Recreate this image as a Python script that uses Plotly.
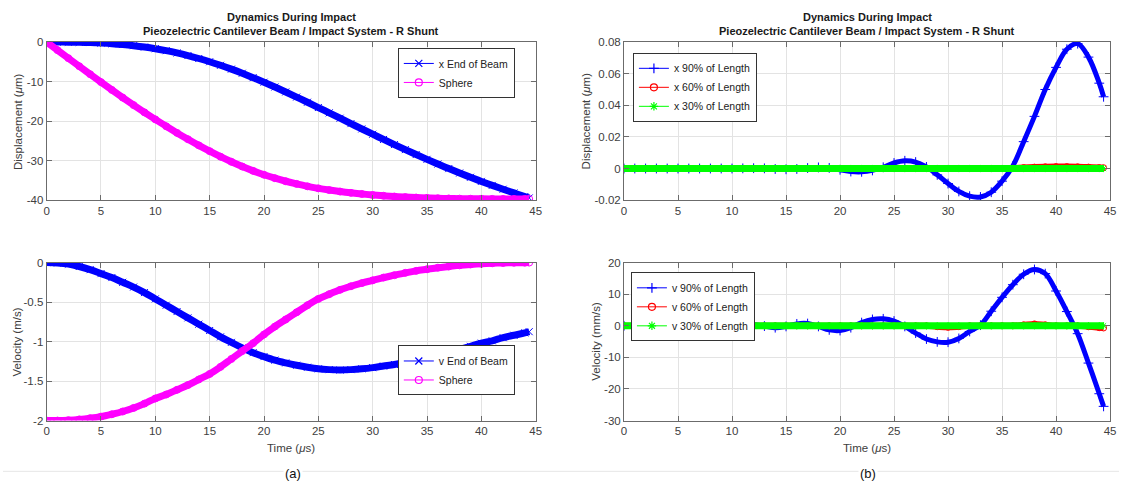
import plotly.graph_objects as go

# ---------------- data ----------------
t_us = [0, 1, 2, 3, 4, 5, 6, 7, 8, 9, 10, 11, 12, 13, 14, 15, 16, 17, 18, 19, 20,
        21, 22, 23, 24, 25, 26, 27, 28, 29, 30, 31, 32, 33, 34, 35, 36, 37, 38, 39,
        40, 41, 42, 43, 44, 44.4]

# (a) top: displacement (um)
x_end_beam = [0, -0.003, -0.015, -0.05, -0.12, -0.24, -0.40, -0.62, -0.90, -1.25, -1.67,
              -2.17, -2.75, -3.41, -4.15, -4.97, -5.87, -6.84, -7.89, -9.00, -10.16,
              -11.37, -12.62, -13.91, -15.22, -16.56, -17.91, -19.27, -20.63, -21.98, -23.32,
              -24.64, -25.94, -27.22, -28.46, -29.68, -30.87, -32.02, -33.14, -34.22, -35.26,
              -36.27, -37.24, -38.18, -39.09, -39.45]
x_sphere = [0, -2.04, -4.08, -6.11, -8.13, -10.13, -12.11, -14.05, -15.94, -17.79, -19.57,
            -21.31, -22.98, -24.59, -26.14, -27.61, -29.01, -30.30, -31.50, -32.59, -33.57,
            -34.45, -35.22, -35.90, -36.51, -37.02, -37.45, -37.83, -38.16, -38.44, -38.69,
            -38.90, -39.09, -39.23, -39.35, -39.44, -39.53, -39.58, -39.63, -39.66, -39.68,
            -39.69, -39.70, -39.70, -39.70, -39.70]

# (a) bottom: velocity (m/s)
v_end_beam = [0, -0.005, -0.02, -0.05, -0.09, -0.14, -0.19, -0.25, -0.31, -0.38, -0.46,
              -0.54, -0.62, -0.70, -0.78, -0.86, -0.94, -1.01, -1.08, -1.14, -1.19,
              -1.235, -1.27, -1.30, -1.325, -1.345, -1.355, -1.36, -1.355, -1.345, -1.33,
              -1.31, -1.29, -1.26, -1.23, -1.20, -1.17, -1.14, -1.10, -1.06, -1.02,
              -0.99, -0.95, -0.92, -0.89, -0.875]
v_sphere = [-2.0, -2.0, -1.995, -1.985, -1.97, -1.95, -1.92, -1.885, -1.84, -1.785, -1.72,
            -1.67, -1.61, -1.55, -1.48, -1.41, -1.32, -1.22, -1.12, -1.02, -0.91,
            -0.81, -0.72, -0.63, -0.54, -0.46, -0.40, -0.345, -0.30, -0.26, -0.225,
            -0.19, -0.16, -0.13, -0.105, -0.085, -0.065, -0.05, -0.035, -0.024, -0.015,
            -0.009, -0.005, -0.002, -0.001, 0.0]

# (b) top: displacement (um)
x_90 = [0, 0, 0, 0, 0, 0, 0, 0, 0, 0, 0,
        0.0001, 0.0002, 0.0001, -0.0003, -0.0005, -0.0003, 0.0003, 0.0007, 0.0004, -0.0008,
        -0.0019, -0.0021, -0.0012, 0.0008, 0.0035, 0.0049, 0.0041, 0.0010, -0.0040, -0.0095,
        -0.0145, -0.0175, -0.0180, -0.0150, -0.0080, 0.0016, 0.0170, 0.0330, 0.0500, 0.0640,
        0.0755, 0.0790, 0.0705, 0.0540, 0.0454]
x_60 = [0, 0, 0, 0, 0, 0, 0, 0, 0, 0, 0,
        0, 0, 0, 0, 0, 0, 0, 0, 0, 0,
        0, 0, 0, 0, 0, 0, 0, 0, 0, 0,
        0, 0, 0, 0, 0, 0.0002, 0.0006, 0.0009, 0.0011, 0.0012,
        0.0012, 0.0011, 0.0009, 0.0006, 0.0005]
x_30 = [0] * 46

# (b) bottom: velocity (mm/s)
v_90 = [0, 0, 0, 0, 0, 0, 0, 0, 0, 0, -0.2,
        0.1, 0.3, -0.1, -0.6, -0.2, 0.6, 0.7, -0.2, -1.3, -1.5,
        -0.6, 1.0, 2.0, 2.2, 1.5, -0.2, -2.3, -4.2, -5.1, -5.2,
        -4.0, -1.8, 0.2, 4.6, 9.0, 13.0, 16.3, 17.8, 16.5, 11.0,
        4.5, -2.5, -11.8, -21.5, -25.5]
v_60 = [0, 0, 0, 0, 0, 0, 0, 0, 0, 0, 0,
        0, 0, 0, 0, 0, 0, 0, 0, 0, 0,
        0, 0, 0, 0, 0, 0, 0, 0, -0.3, -0.5,
        -0.3, 0, 0, 0, 0, 0, 0.3, 0.6, 0.3, 0,
        0, 0, -0.3, -0.6, -0.7]
v_30 = [0] * 46

x_ticks = [0, 5, 10, 15, 20, 25, 30, 35, 40, 45]
x_ticktext = ["0", "5", "10", "15", "20", "25", "30", "35", "40", "45"]
ya1_ticks = [-40, -30, -20, -10, 0]
ya1_text = ["-40", "-30", "-20", "-10", "0"]
ya2_ticks = [-2, -1.5, -1, -0.5, 0]
ya2_text = ["-2", "-1.5", "-1", "-0.5", "0"]
yb1_ticks = [-0.02, 0, 0.02, 0.04, 0.06, 0.08]
yb1_text = ["-0.02", "0", "0.02", "0.04", "0.06", "0.08"]
yb2_ticks = [-30, -20, -10, 0, 10, 20]
yb2_text = ["-30", "-20", "-10", "0", "10", "20"]

title_line1 = "Dynamics During Impact"
title_line2 = "Pieozelectric Cantilever Beam / Impact System - R Shunt"

# ---------------- figure ----------------
W, H = 1125, 490
FONT = "Liberation Sans, Arial, Helvetica, sans-serif"
BLUE, MAG, RED, GREEN = "#0000FF", "#FF00FF", "#FF0000", "#00FF00"

fig = go.Figure()


def band(x, y, color, symbol, xa, ya, lw, msize):
    fig.add_trace(go.Scatter(
        x=x, y=y, mode="lines+markers", xaxis=xa, yaxis=ya, showlegend=False,
        line=dict(color=color, width=lw, shape="spline"),
        marker=dict(symbol=symbol, size=msize, color=color, line=dict(color=color, width=1)),
        hoverinfo="skip"))


def legend_item(name, color, symbol, legend):
    fig.add_trace(go.Scatter(
        x=[None], y=[None], mode="lines+markers", name=name, legend=legend,
        line=dict(color=color, width=1),
        marker=dict(symbol=symbol, size=7, color=color, line=dict(color=color, width=1.2))))


# (a) top
band(t_us, x_end_beam, BLUE, "x-thin-open", "x", "y", 7, 7)
band(t_us, x_sphere, MAG, "circle-open", "x", "y", 7, 7)
legend_item("x End of Beam", BLUE, "x-thin-open", "legend")
legend_item("Sphere", MAG, "circle-open", "legend")

# (b) top
band(t_us, x_90, BLUE, "cross-thin-open", "x2", "y2", 5, 7)
band(t_us, x_60, RED, "circle-open", "x2", "y2", 6, 6)
band(t_us, x_30, GREEN, "asterisk-open", "x2", "y2", 7, 6)
legend_item("x 90% of Length", BLUE, "cross-thin-open", "legend2")
legend_item("x 60% of Length", RED, "circle-open", "legend2")
legend_item("x 30% of Length", GREEN, "asterisk-open", "legend2")

# (a) bottom
band(t_us, v_end_beam, BLUE, "x-thin-open", "x3", "y3", 7, 7)
band(t_us, v_sphere, MAG, "circle-open", "x3", "y3", 7, 7)
legend_item("v End of Beam", BLUE, "x-thin-open", "legend3")
legend_item("Sphere", MAG, "circle-open", "legend3")

# (b) bottom
band(t_us, v_90, BLUE, "cross-thin-open", "x4", "y4", 5, 7)
band(t_us, v_60, RED, "circle-open", "x4", "y4", 6, 6)
band(t_us, v_30, GREEN, "asterisk-open", "x4", "y4", 7, 6)
legend_item("v 90% of Length", BLUE, "cross-thin-open", "legend4")
legend_item("v 60% of Length", RED, "circle-open", "legend4")
legend_item("v 30% of Length", GREEN, "asterisk-open", "legend4")


def px(x):
    return x / W


def py(y):
    return 1 - y / H


left_dom = [px(44), px(537)]
right_dom = [px(626), px(1116)]
top_dom = [py(199), py(37)]
bot_dom = [py(425), py(263)]

axis_common = dict(
    showline=True, linecolor="#6b6b6b", linewidth=1, mirror="ticks",
    ticks="inside", ticklen=5, tickcolor="#6b6b6b", tickwidth=1,
    showgrid=True, gridcolor="#e3e3e3", gridwidth=1, zeroline=False,
    tickfont=dict(family=FONT, size=11.5, color="#404040"),
)


def xax(domain, anchor):
    return dict(axis_common, domain=domain, anchor=anchor, range=[0, 45],
                tickvals=x_ticks, ticktext=x_ticktext)


def yax(domain, anchor, rng, tv, tt):
    return dict(axis_common, domain=domain, anchor=anchor, range=rng,
                tickvals=tv, ticktext=tt)


legend_common = dict(xanchor="left", yanchor="top", bgcolor="white",
                     bordercolor="#333333", borderwidth=1,
                     font=dict(family=FONT, size=10.5, color="#222222"),
                     tracegroupgap=0, itemwidth=30)

fig.update_layout(
    width=W, height=H,
    margin=dict(l=0, r=0, t=0, b=0),
    paper_bgcolor="white", plot_bgcolor="white",
    font=dict(family=FONT),
    xaxis=xax(left_dom, "y"),
    yaxis=yax(top_dom, "x", [-40, 0], ya1_ticks, ya1_text),
    xaxis2=xax(right_dom, "y2"),
    yaxis2=yax(top_dom, "x2", [-0.02, 0.08], yb1_ticks, yb1_text),
    xaxis3=xax(left_dom, "y3"),
    yaxis3=yax(bot_dom, "x3", [-2, 0], ya2_ticks, ya2_text),
    xaxis4=xax(right_dom, "y4"),
    yaxis4=yax(bot_dom, "x4", [-30, 20], yb2_ticks, yb2_text),
    legend=dict(legend_common, x=px(398), y=py(43)),
    legend2=dict(legend_common, x=px(635), y=py(48)),
    legend3=dict(legend_common, x=px(398), y=py(348)),
    legend4=dict(legend_common, x=px(633), y=py(273)),
)

annots = []
for cx in [(44 + 537) / 2, (626 + 1116) / 2]:
    annots.append(dict(x=px(cx), y=py(11), text="<b>" + title_line1 + "</b>"))
    annots.append(dict(x=px(cx), y=py(26), text="<b>" + title_line2 + "</b>"))
    annots.append(dict(x=px(cx), y=py(453), text="Time (<i>μ</i>s)",
                       font=dict(family=FONT, size=11.5, color="#404040")))
for ax_, ay_, txt in [(15, 118, "Displacement (<i>μ</i>m)"), (14, 344, "Velocity (m/s)"),
                      (588, 118, "Displacement (<i>μ</i>m)"), (597, 344, "Velocity (mm/s)")]:
    annots.append(dict(x=px(ax_), y=py(ay_), text=txt, textangle=-90,
                       font=dict(family=FONT, size=11.5, color="#404040")))
annots.append(dict(x=px(292), y=py(479), text="(a)", bgcolor="white",
                   font=dict(family=FONT, size=13, color="#111111")))
annots.append(dict(x=px(872), y=py(479), text="(b)", bgcolor="white",
                   font=dict(family=FONT, size=13, color="#111111")))

for a in annots:
    a.setdefault("font", dict(family=FONT, size=11, color="#1a1a1a"))
    a.update(xref="paper", yref="paper", showarrow=False, xanchor="center", yanchor="middle")
fig.update_layout(annotations=annots)

fig.add_shape(type="line", xref="paper", yref="paper", x0=0, x1=1, y0=py(477), y1=py(477),
              line=dict(color="#e6e6e6", width=1), layer="below")

fig.write_html("out.html",
               config={"displayModeBar": False},
               post_script="document.body.style.margin='0';document.body.style.overflow='hidden';")
